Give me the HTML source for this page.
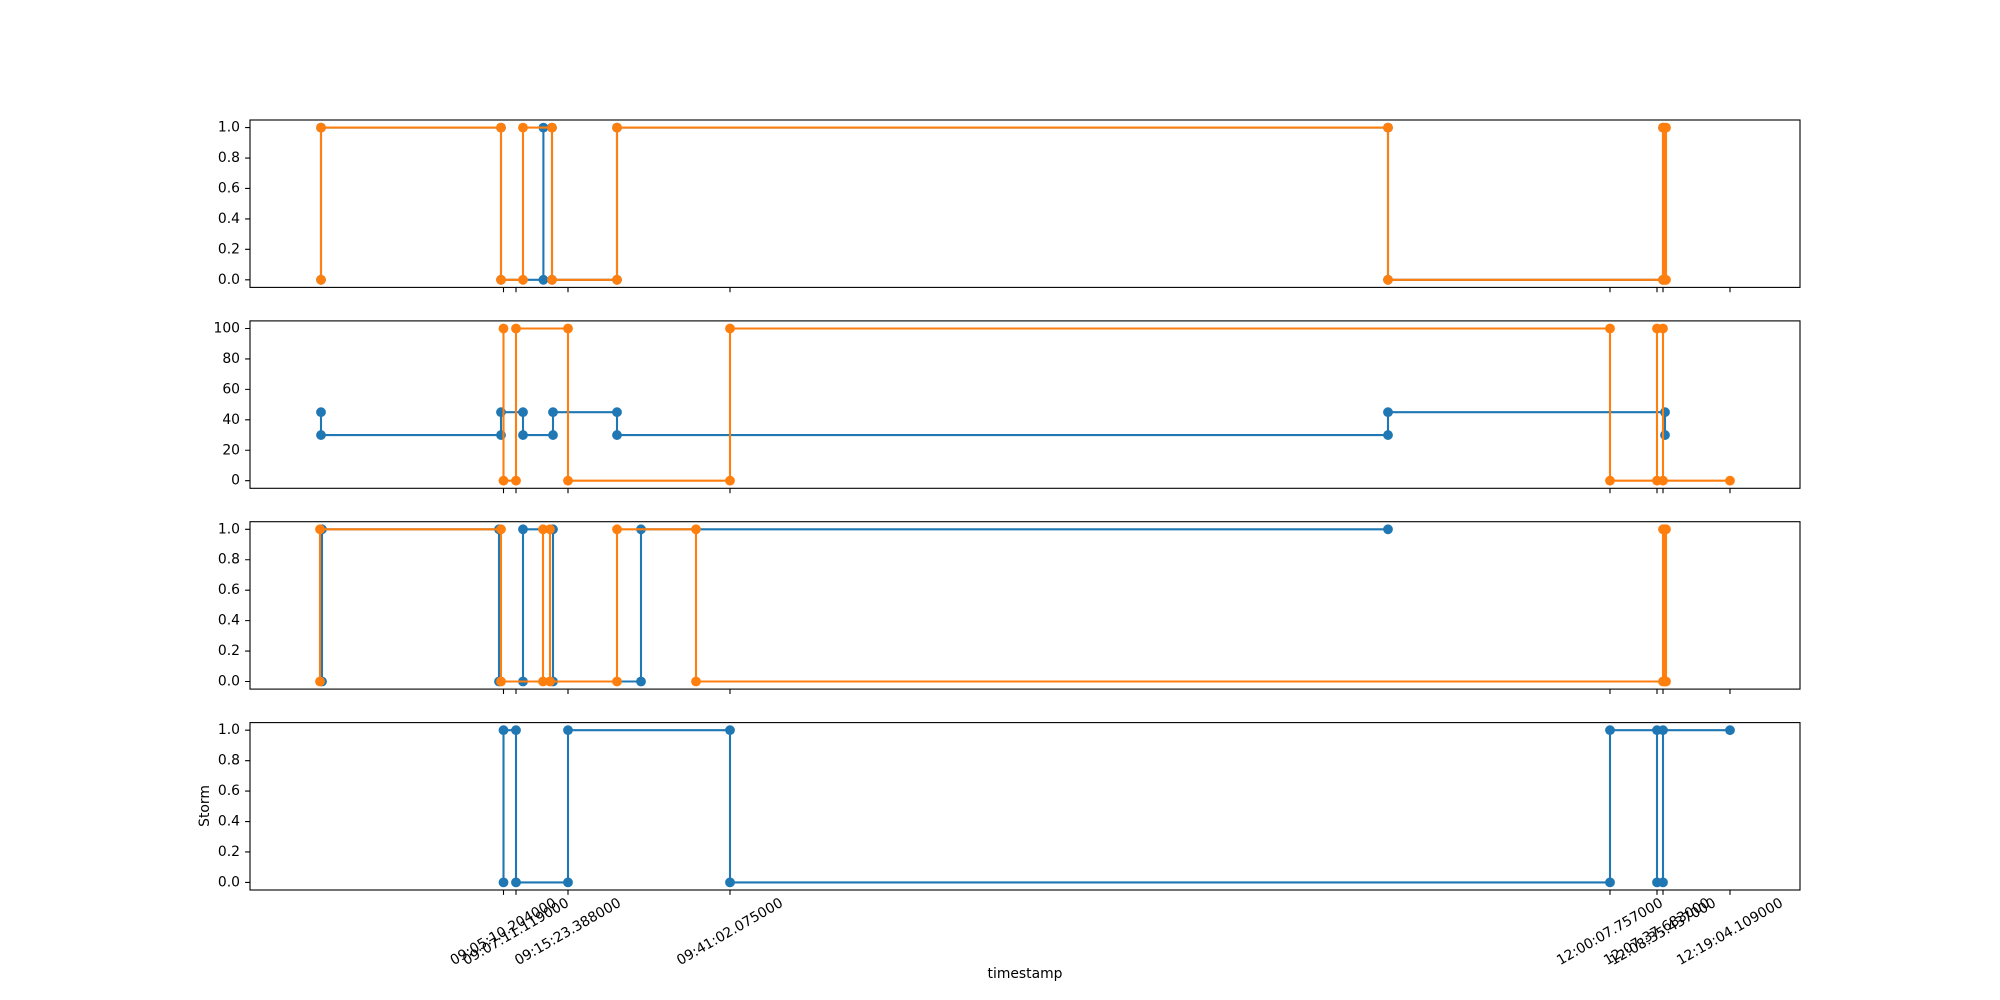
<!DOCTYPE html>
<html><head><meta charset="utf-8"><style>
html,body{margin:0;padding:0;background:#fff}
svg{display:block}
text{font-family:"DejaVu Sans","Liberation Sans",sans-serif;font-size:13.9px;fill:#000}
</style></head><body>
<svg id="s" width="2000" height="1000" viewBox="0 0 2000 1000" xmlns="http://www.w3.org/2000/svg">
<rect width="2000" height="1000" fill="#fff"/>
<g id="plots"></g>
<g id="frames" fill="none" stroke="#000" stroke-width="1.1">
<rect x="250" y="120" width="1550" height="167.4"/>
<rect x="250" y="320.9" width="1550" height="167.4"/>
<rect x="250" y="521.7" width="1550" height="167.4"/>
<rect x="250" y="722.6" width="1550" height="167.4"/>
</g>
<g id="ticks" stroke="#000" stroke-width="1.1"></g>
<g text-anchor="end" dominant-baseline="central">
<text x="240" y="127.6">1.0</text><text x="240" y="158">0.8</text><text x="240" y="188.5">0.6</text><text x="240" y="218.9">0.4</text><text x="240" y="249.4">0.2</text><text x="240" y="279.8">0.0</text>
<text x="240" y="328.5">100</text><text x="240" y="359">80</text><text x="240" y="389.4">60</text><text x="240" y="419.8">40</text><text x="240" y="450.3">20</text><text x="240" y="480.7">0</text>
<text x="240" y="529.3">1.0</text><text x="240" y="559.7">0.8</text><text x="240" y="590.2">0.6</text><text x="240" y="620.6">0.4</text><text x="240" y="651">0.2</text><text x="240" y="681.5">0.0</text>
<text x="240" y="730.2">1.0</text><text x="240" y="760.6">0.8</text><text x="240" y="791.1">0.6</text><text x="240" y="821.5">0.4</text><text x="240" y="852">0.2</text><text x="240" y="882.4">0.0</text>
</g>
<g text-anchor="middle" dominant-baseline="central">
<text transform="translate(503.5,932) rotate(-30)">09:05:10.204000</text>
<text transform="translate(516,932) rotate(-30)">09:07:11.119000</text>
<text transform="translate(568,932) rotate(-30)">09:15:23.388000</text>
<text transform="translate(730,932) rotate(-30)">09:41:02.075000</text>
<text transform="translate(1610,932) rotate(-30)">12:00:07.757000</text>
<text transform="translate(1657,932) rotate(-30)">12:07:37.683000</text>
<text transform="translate(1663,932) rotate(-30)">12:08:35.437000</text>
<text transform="translate(1730,932) rotate(-30)">12:19:04.109000</text>
<text x="1025" y="974">timestamp</text>
<text transform="translate(205,806) rotate(-90)">Storm</text>
</g>
</svg>
<script>
(function(){
var NS="http://www.w3.org/2000/svg";
var g=document.getElementById("plots"), tk=document.getElementById("ticks");
var B="#1f77b4",O="#ff7f0e";
function Y(p,v){var z=[279.8,480.7,681.5,882.4][p];return p==1? z-v*1.522 : z-v*152.2;}
function series(p,pts,c){
 var d=pts.map(function(q){return q[0]+","+Y(p,q[1]);}).join(" ");
 var pl=document.createElementNS(NS,"polyline");
 pl.setAttribute("points",d);pl.setAttribute("fill","none");pl.setAttribute("stroke",c);pl.setAttribute("stroke-width","2.1");pl.setAttribute("stroke-linejoin","round");
 g.appendChild(pl);
 pts.forEach(function(q){var ci=document.createElementNS(NS,"circle");ci.setAttribute("cx",q[0]);ci.setAttribute("cy",Y(p,q[1]));ci.setAttribute("r","4.9");ci.setAttribute("fill",c);g.appendChild(ci);});
}
series(0,[[321,0],[321,1],[501,1],[501,0],[543.4,0],[543.4,1],[552,1],[552,0],[617,0],[617,1],[1388,1],[1388,0],[1663,0],[1663,1]],B);
series(0,[[321,0],[321,1],[501,1],[501,0],[523,0],[523,1],[552,1],[552,0],[617,0],[617,1],[1388,1],[1388,0],[1663,0],[1663,1],[1665,1],[1665,0],[1666,0],[1666,1]],O);
series(1,[[321,45],[321,30],[501,30],[501,45],[523,45],[523,30],[553,30],[553,45],[617,45],[617,30],[1388,30],[1388,45],[1665,45],[1665,30]],B);
series(1,[[503.5,100],[503.5,0],[516,0],[516,100],[568,100],[568,0],[730,0],[730,100],[1610,100],[1610,0],[1657,0],[1657,100],[1663,100],[1663,0],[1730,0]],O);
series(2,[[322,0],[322,1],[499,1],[499,0],[523,0],[523,1],[553,1],[553,0],[641,0],[641,1],[1388,1]],B);
series(2,[[320,0],[320,1],[501,1],[501,0],[543,0],[543,1],[550,1],[550,0],[617,0],[617,1],[696,1],[696,0],[1663,0],[1663,1],[1665,1],[1665,0],[1666,0],[1666,1]],O);
series(3,[[503.5,0],[503.5,1],[516,1],[516,0],[568,0],[568,1],[730,1],[730,0],[1610,0],[1610,1],[1657,1],[1657,0],[1663,0],[1663,1],[1730,1]],B);
var xs=[503.5,516,568,730,1610,1657,1663,1730],bot=[287.4,488.3,689.1,890];
var d="";
bot.forEach(function(b){xs.forEach(function(x){d+="M"+x+" "+b+"v4.9";});});
[279.8,480.7,681.5,882.4].forEach(function(z){
 for(var k=0;k<6;k++){d+="M250 "+(z-k*30.44)+"h-4.9";}
});
var pa=document.createElementNS(NS,"path");pa.setAttribute("d",d);tk.appendChild(pa);
})();
</script>
</body></html>
